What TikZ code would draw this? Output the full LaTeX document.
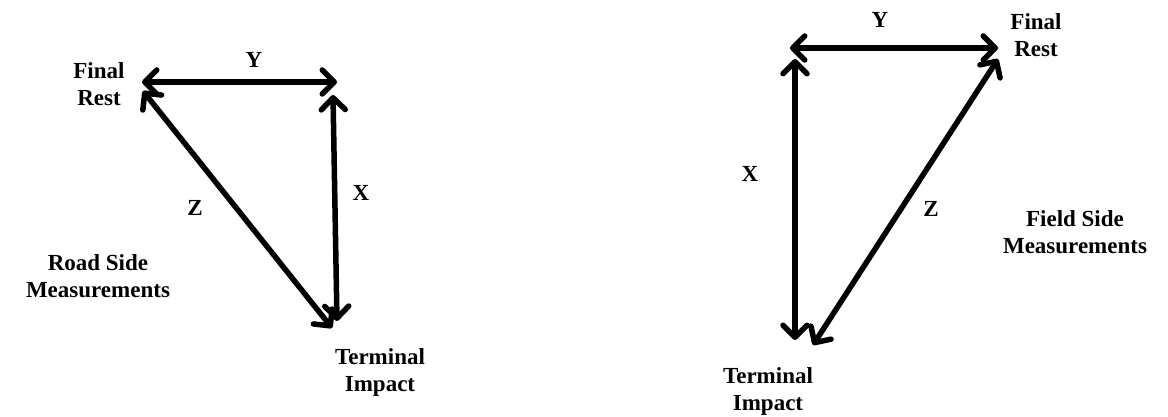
\documentclass[tikz,border=0pt]{standalone}
\usepackage{fontspec}
\setmainfont{Liberation Serif}
\usetikzlibrary{arrows.meta}
\tikzset{
  meas/.style={line width=5.5pt, line cap=round, line join=round,
    {Straight Barb[length=12pt,width=24pt,line cap=round,line join=round]}-{Straight Barb[length=12pt,width=24pt,line cap=round,line join=round]}},
  lbl/.style={font=\fontsize{23}{27}\selectfont\bfseries, align=center, inner sep=0pt}
}
\begin{document}
\begin{tikzpicture}[x=1pt,y=-1pt]
\useasboundingbox (0,0) rectangle (1168,417);
% left diagram
\coordinate (LYl) at (142,82);
\coordinate (LYr) at (337,82);
\coordinate (LZt) at (143,91);
\coordinate (LZb) at (332,328);
\coordinate (LXt) at (333,95);
\coordinate (LXb) at (337,321);
\draw[meas] (LYl) -- (LYr);
\draw[meas] (LZt) -- (LZb);
\draw[meas] (LXt) -- (LXb);
\node[lbl] (ly) at (254,60) {Y};
\node[lbl] (lfr) at (99,84) {Final\\Rest};
\node[lbl] (lz) at (195,208) {Z};
\node[lbl] (lx) at (361,193) {X};
\node[lbl] (lrs) at (98,276) {Road Side\\Measurements};
\node[lbl] (lti) at (380,372) {Terminal\\Impact};
% right diagram
\coordinate (RYl) at (790,48);
\coordinate (RYr) at (998,48);
\coordinate (RXt) at (795,59);
\coordinate (RXb) at (795,340);
\coordinate (RZt) at (998,59);
\coordinate (RZb) at (813,345);
\draw[meas] (RYl) -- (RYr);
\draw[meas] (RXt) -- (RXb);
\draw[meas] (RZt) -- (RZb);
\node[lbl] (ry) at (880,20) {Y};
\node[lbl] (rfr) at (1036,35) {Final\\Rest};
\node[lbl] (rx) at (750,174) {X};
\node[lbl] (rz) at (931,209) {Z};
\node[lbl] (rfs) at (1075,232) {Field Side\\Measurements};
\node[lbl] (rti) at (768,391) {Terminal\\Impact};
\end{tikzpicture}
\end{document}
